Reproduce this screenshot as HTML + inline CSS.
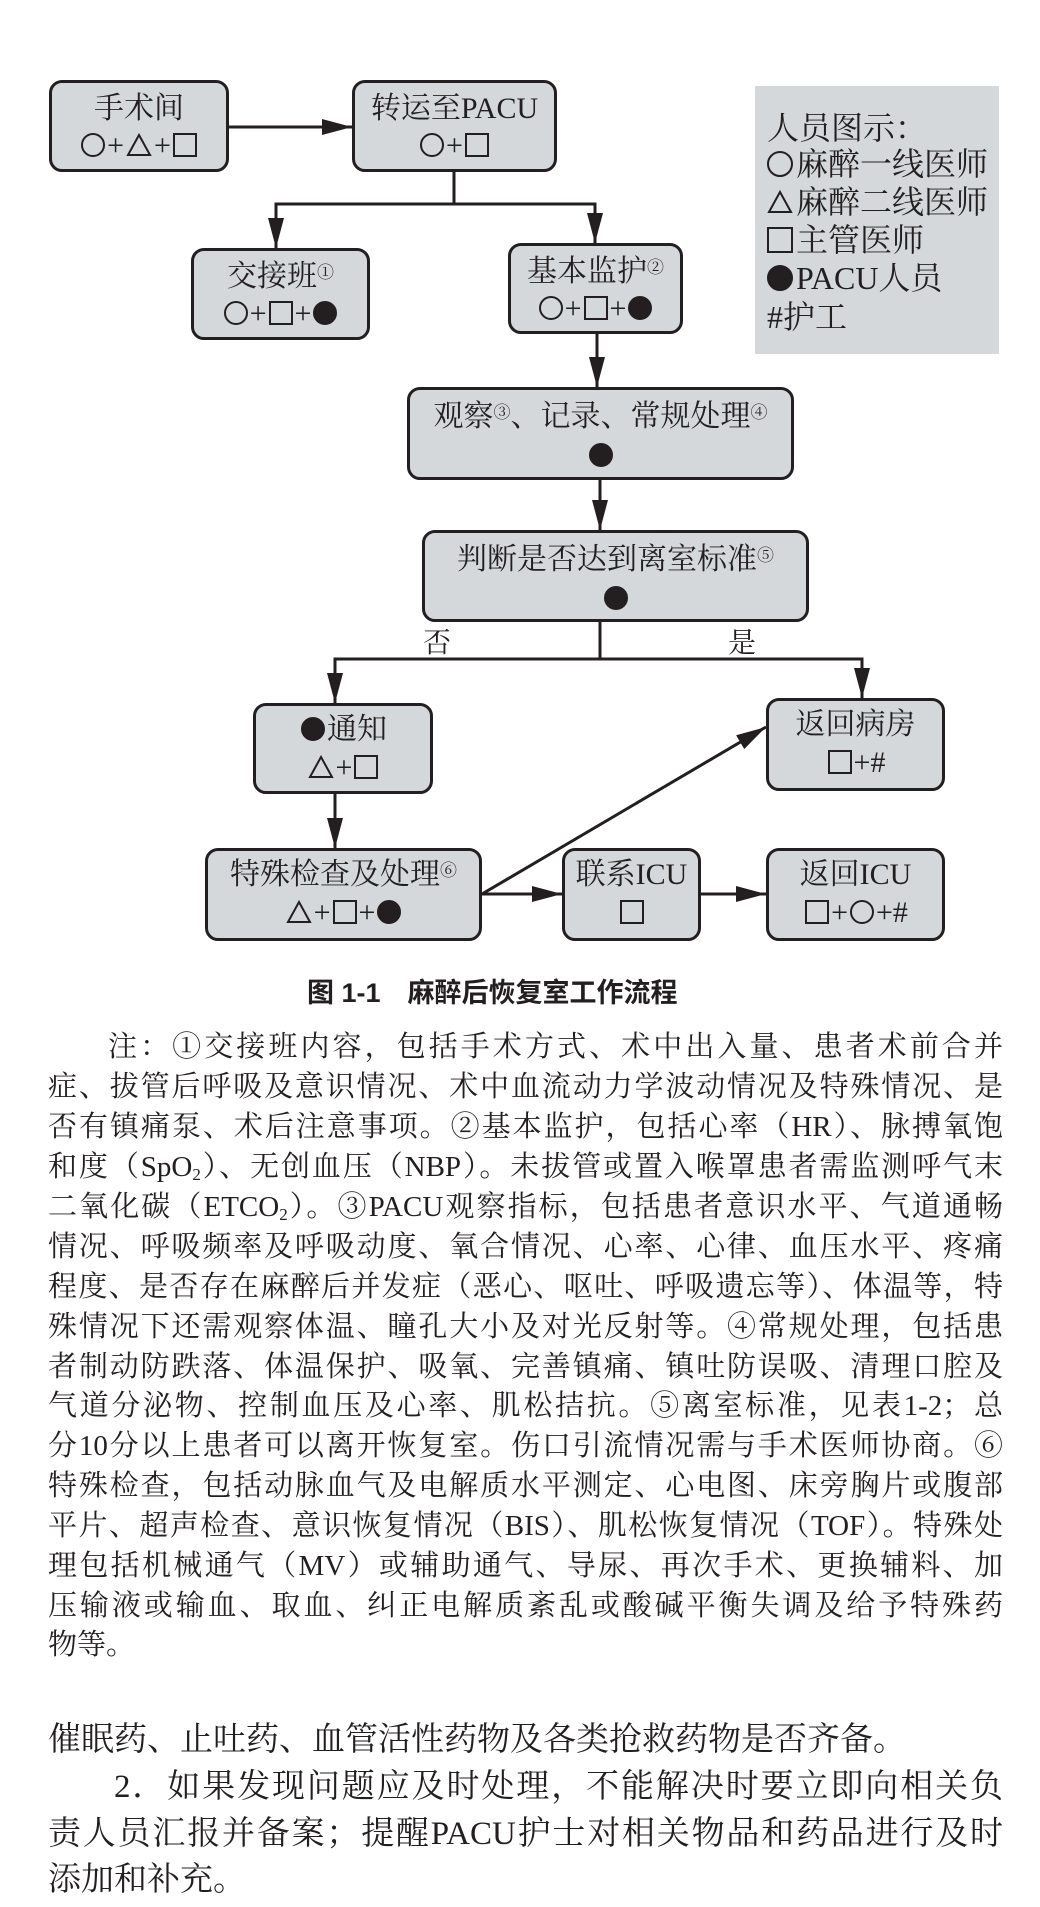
<!DOCTYPE html>
<html><head><meta charset="utf-8">
<style>
body{margin:0;width:1040px;height:1907px;background:#fff;position:relative;overflow:hidden;font-family:"Liberation Serif","Noto Serif CJK SC",serif;color:#231f20}
.b{position:absolute;box-sizing:border-box;background:#d5d8da;border:3px solid #231f20;border-radius:13px;text-align:center;font-size:30px;line-height:30px}
.b .l1{position:absolute;left:0;right:0;white-space:nowrap}
.b .l2{position:absolute;left:0;right:0;white-space:nowrap}
sup{font-size:17px;vertical-align:top;position:relative;top:-4px}
.lg{position:absolute;left:755px;top:86px;width:244px;height:268px;background:#d5d8da}
.lg div{position:absolute;left:12px;font-size:32px;line-height:38px;white-space:nowrap}
.t{position:absolute;left:48px;width:955px;font-size:29px;line-height:40px;height:40px;white-space:nowrap;text-align:justify;text-align-last:justify}
.t sub{font-size:17px;vertical-align:-4px;line-height:0}
.u{position:absolute;left:48px;width:955px;font-size:33px;line-height:46px;height:46px;white-space:nowrap;text-align:justify;text-align-last:justify}
.c,.s,.d{display:inline-block;width:24px;height:24px;border:2px solid #231f20;box-sizing:border-box;vertical-align:-2px;margin:0 2px}
.c,.d{border-radius:50%}
.d{background:#231f20}
.tr{display:inline-block;width:26px;height:24px;vertical-align:-2px;margin:0 2px}
.lg .c,.lg .s,.lg .d,.lg .tr{width:26px;height:26px;margin:0 3px 0 0}
</style></head><body>
<svg width="1040" height="1000" style="position:absolute;left:0;top:0" xmlns="http://www.w3.org/2000/svg">
<defs>
<marker id="m" viewBox="0 0 30 16" markerWidth="30" markerHeight="16" refX="30" refY="8" orient="auto" markerUnits="userSpaceOnUse"><path d="M0,0 L30,8 L0,16z" fill="#231f20"/></marker></defs>
<g stroke="#231f20" stroke-width="3" fill="none">
<line x1="229" y1="127" x2="352" y2="127" marker-end="url(#m)"/>
<polyline points="454,172 454,204 276,204 276,248" marker-end="url(#m)"/>
<polyline points="454,204 595,204 595,243" marker-end="url(#m)"/>
<line x1="597" y1="334" x2="597" y2="387" marker-end="url(#m)"/>
<line x1="600" y1="480" x2="600" y2="530" marker-end="url(#m)"/>
<polyline points="600,622 600,659 335,659 335,703" marker-end="url(#m)"/>
<polyline points="600,659 862,659 862,698" marker-end="url(#m)"/>
<line x1="335" y1="794" x2="335" y2="848" marker-end="url(#m)"/>
<line x1="482" y1="894" x2="562" y2="894" marker-end="url(#m)"/>
<line x1="701" y1="894" x2="766" y2="894" marker-end="url(#m)"/>
<line x1="482" y1="894" x2="766" y2="727" marker-end="url(#m)"/>
</g>
<text x="437" y="652" font-size="28" text-anchor="middle" font-family="Liberation Serif,Noto Serif CJK SC,serif" fill="#231f20">否</text>
<text x="742" y="652" font-size="28" text-anchor="middle" font-family="Liberation Serif,Noto Serif CJK SC,serif" fill="#231f20">是</text>
</svg>

<div class="b" style="left:49px;top:80px;width:180px;height:92px"><div class="l1" style="top:11px">手术间</div><div class="l2" style="top:48px"><span class="c"></span>+<svg class="tr" viewBox="0 0 26 24"><path d="M13,2 L24,22 L2,22z" fill="none" stroke="#231f20" stroke-width="2"/></svg>+<span class="s"></span></div></div>
<div class="b" style="left:352px;top:80px;width:205px;height:92px"><div class="l1" style="top:11px">转运至PACU</div><div class="l2" style="top:48px"><span class="c"></span>+<span class="s"></span></div></div>
<div class="b" style="left:191px;top:248px;width:179px;height:92px"><div class="l1" style="top:11px">交接班<sup>①</sup></div><div class="l2" style="top:48px"><span class="c"></span>+<span class="s"></span>+<span class="d"></span></div></div>
<div class="b" style="left:508px;top:243px;width:175px;height:91px"><div class="l1" style="top:11px">基本监护<sup>②</sup></div><div class="l2" style="top:48px"><span class="c"></span>+<span class="s"></span>+<span class="d"></span></div></div>
<div class="b" style="left:407px;top:387px;width:387px;height:93px"><div class="l1" style="top:12px">观察<sup>③</sup>、记录、常规处理<sup>④</sup></div><div class="l2" style="top:51px"><span class="d"></span></div></div>
<div class="b" style="left:422px;top:530px;width:387px;height:92px"><div class="l1" style="top:12px">判断是否达到离室标准<sup>⑤</sup></div><div class="l2" style="top:51px"><span class="d"></span></div></div>
<div class="b" style="left:253px;top:703px;width:180px;height:91px"><div class="l1" style="top:9px"><span class="d"></span>通知</div><div class="l2" style="top:47px"><svg class="tr" viewBox="0 0 26 24"><path d="M13,2 L24,22 L2,22z" fill="none" stroke="#231f20" stroke-width="2"/></svg>+<span class="s"></span></div></div>
<div class="b" style="left:766px;top:698px;width:179px;height:93px"><div class="l1" style="top:9px">返回病房</div><div class="l2" style="top:47px"><span class="s"></span>+#</div></div>
<div class="b" style="left:205px;top:848px;width:277px;height:93px"><div class="l1" style="top:9px">特殊检查及处理<sup>⑥</sup></div><div class="l2" style="top:47px"><svg class="tr" viewBox="0 0 26 24"><path d="M13,2 L24,22 L2,22z" fill="none" stroke="#231f20" stroke-width="2"/></svg>+<span class="s"></span>+<span class="d"></span></div></div>
<div class="b" style="left:562px;top:848px;width:139px;height:93px"><div class="l1" style="top:9px">联系ICU</div><div class="l2" style="top:47px"><span class="s"></span></div></div>
<div class="b" style="left:766px;top:848px;width:179px;height:93px"><div class="l1" style="top:9px">返回ICU</div><div class="l2" style="top:47px"><span class="s"></span>+<span class="c"></span>+#</div></div>

<div class="lg">
<div style="top:23px">人员图示：</div>
<div style="top:59px"><span class="c"></span>麻醉一线医师</div>
<div style="top:97px"><svg class="tr" viewBox="0 0 26 24"><path d="M13,2 L24,22 L2,22z" fill="none" stroke="#231f20" stroke-width="2"/></svg>麻醉二线医师</div>
<div style="top:135px"><span class="s"></span>主管医师</div>
<div style="top:173px"><span class="d"></span>PACU人员</div>
<div style="top:212px">#护工</div>
</div>

<div style="position:absolute;left:307px;top:976px;font-family:'Liberation Sans','Noto Sans CJK SC',sans-serif;font-weight:bold;font-size:27px;line-height:34px;white-space:nowrap">图 1-1　麻醉后恢复室工作流程</div>

<div class="t" style="top:1027px;left:108px;width:895px">注：①交接班内容，包括手术方式、术中出入量、患者术前合并</div>
<div class="t" style="top:1067px">症、拔管后呼吸及意识情况、术中血流动力学波动情况及特殊情况、是</div>
<div class="t" style="top:1107px">否有镇痛泵、术后注意事项。②基本监护，包括心率（HR）、脉搏氧饱</div>
<div class="t" style="top:1147px">和度（SpO<sub>2</sub>）、无创血压（NBP）。未拔管或置入喉罩患者需监测呼气末</div>
<div class="t" style="top:1187px">二氧化碳（ETCO<sub>2</sub>）。③PACU观察指标，包括患者意识水平、气道通畅</div>
<div class="t" style="top:1227px">情况、呼吸频率及呼吸动度、氧合情况、心率、心律、血压水平、疼痛</div>
<div class="t" style="top:1267px">程度、是否存在麻醉后并发症（恶心、呕吐、呼吸遗忘等）、体温等，特</div>
<div class="t" style="top:1307px">殊情况下还需观察体温、瞳孔大小及对光反射等。④常规处理，包括患</div>
<div class="t" style="top:1347px">者制动防跌落、体温保护、吸氧、完善镇痛、镇吐防误吸、清理口腔及</div>
<div class="t" style="top:1386px">气道分泌物、控制血压及心率、肌松拮抗。⑤离室标准，见表1-2；总</div>
<div class="t" style="top:1426px">分10分以上患者可以离开恢复室。伤口引流情况需与手术医师协商。⑥</div>
<div class="t" style="top:1466px">特殊检查，包括动脉血气及电解质水平测定、心电图、床旁胸片或腹部</div>
<div class="t" style="top:1506px">平片、超声检查、意识恢复情况（BIS）、肌松恢复情况（TOF）。特殊处</div>
<div class="t" style="top:1546px">理包括机械通气（MV）或辅助通气、导尿、再次手术、更换辅料、加</div>
<div class="t" style="top:1586px">压输液或输血、取血、纠正电解质紊乱或酸碱平衡失调及给予特殊药</div>
<div class="t" style="top:1625px;text-align-last:left">物等。</div>

<div class="u" style="top:1717px;text-align-last:left">催眠药、止吐药、血管活性药物及各类抢救药物是否齐备。</div>
<div class="u" style="top:1764px;left:114px;width:889px">2．如果发现问题应及时处理，不能解决时要立即向相关负</div>
<div class="u" style="top:1811px">责人员汇报并备案；提醒PACU护士对相关物品和药品进行及时</div>
<div class="u" style="top:1857px;text-align-last:left">添加和补充。</div>
</body></html>
